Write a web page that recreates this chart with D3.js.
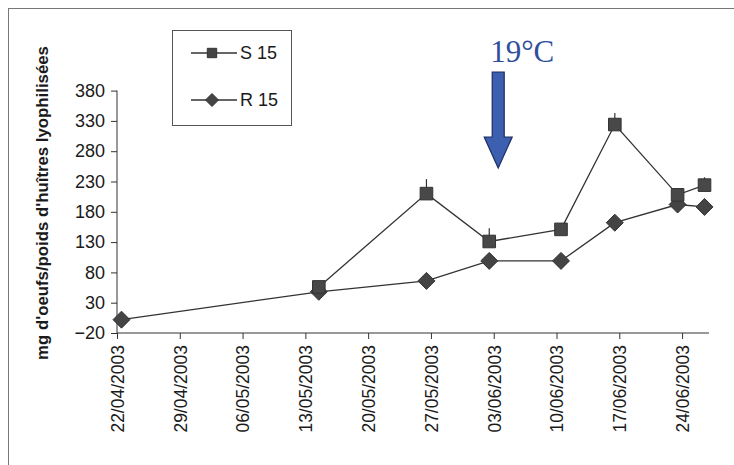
<!DOCTYPE html>
<html>
<head>
<meta charset="utf-8">
<script src="https://cdn.jsdelivr.net/npm/d3@7"></script>
<style>
  html, body { margin: 0; padding: 0; background: #fff; }
  svg { display: block; }
</style>
</head>
<body>
<svg id="chart" width="734" height="465"></svg>
<script>
// Egg mass per freeze-dried oyster weight, spring 2003
const sDates  = ["14/05/2003", "26/05/2003", "02/06/2003", "10/06/2003", "16/06/2003", "23/06/2003", "26/06/2003"];
const sValues = [56, 210, 131, 151, 324, 208, 224];
const sErrors = [0, 24, 22, 0, 19, 0, 13];

const rDates  = ["22/04/2003", "14/05/2003", "26/05/2003", "02/06/2003", "10/06/2003", "16/06/2003", "23/06/2003", "26/06/2003"];
const rValues = [2, 48, 66, 99, 99, 162, 192, 188];

const xTickLabels = ["22/04/2003", "29/04/2003", "06/05/2003", "13/05/2003", "20/05/2003",
                     "27/05/2003", "03/06/2003", "10/06/2003", "17/06/2003", "24/06/2003"];
const yTicks = [-20, 30, 80, 130, 180, 230, 280, 330, 380];

const seriesNames = ["S 15", "R 15"];
const yTitle = "mg d'oeufs/poids d'huîtres lyophilisées";
const markerLabel = "19°C";
const markerDate = "03/06/2003";

const parse = d3.timeParse("%d/%m/%Y");
const fmt = d3.timeFormat("%d/%m/%Y");
const mid = d => d3.timeHour.offset(parse(d), 12);   // points sit in the middle of their day

const svg = d3.select("#chart");
const sans = "'Liberation Sans', Arial, sans-serif";
const ink = "#333";

// outer frame
svg.append("rect")
  .attr("x", 8.5).attr("y", 8.5).attr("width", 760).attr("height", 480)
  .attr("fill", "none").attr("stroke", "#777").attr("stroke-width", 1);

const x = d3.scaleTime()
  .domain([parse("22/04/2003"), parse("27/06/2003")])
  .range([117, 709]);
const y = d3.scaleLinear().domain([-20, 380]).range([333, 90.6]);

// y axis
const yAxis = svg.append("g")
  .attr("transform", "translate(117,0)")
  .call(d3.axisLeft(y).tickValues(yTicks).tickSize(6).tickPadding(6).tickFormat(d3.format("d")));
yAxis.select(".domain").attr("stroke", ink).attr("d", `M-0,${y(380)}V${y(-20)}`);
yAxis.selectAll(".tick line").attr("stroke", ink);
yAxis.selectAll("text")
  .attr("font-family", sans).attr("font-size", 18).attr("fill", "#1a1a1a");

// x axis
const xAxis = svg.append("g")
  .attr("transform", "translate(0,333)")
  .call(d3.axisBottom(x)
    .tickValues(xTickLabels.map(parse))
    .tickSize(6)
    .tickFormat(fmt));
xAxis.select(".domain").attr("stroke", ink).attr("d", `M${x.range()[0]},0H${x.range()[1]}`);
xAxis.selectAll(".tick line").attr("stroke", ink);
xAxis.selectAll("text")
  .attr("font-family", sans).attr("font-size", 17.5).attr("fill", "#1a1a1a")
  .attr("text-anchor", "end")
  .attr("transform", "rotate(-90)")
  .attr("x", -12).attr("y", 0).attr("dy", "0.36em");

// y axis title
svg.append("text")
  .attr("transform", "translate(48,203) rotate(-90)")
  .attr("text-anchor", "middle")
  .attr("font-family", sans).attr("font-weight", "bold").attr("font-size", 16.8)
  .attr("fill", "#1a1a1a")
  .text(yTitle);

const sData = sDates.map((d, i) => ({ date: mid(d), v: sValues[i], e: sErrors[i] }));
const rData = rDates.map((d, i) => ({ date: mid(d), v: rValues[i] }));

const line = d3.line().x(d => x(d.date)).y(d => y(d.v));

svg.append("path").datum(rData).attr("d", line)
  .attr("fill", "none").attr("stroke", ink).attr("stroke-width", 1.3);
svg.append("path").datum(sData).attr("d", line)
  .attr("fill", "none").attr("stroke", ink).attr("stroke-width", 1.3);

// upper error bars on S 15
svg.append("g").selectAll("line")
  .data(sData.filter(d => d.e > 0)).join("line")
  .attr("x1", d => x(d.date)).attr("x2", d => x(d.date))
  .attr("y1", d => y(d.v)).attr("y2", d => y(d.v + d.e))
  .attr("stroke", ink).attr("stroke-width", 1.2);

const diamond = r => `M0,${-r}L${r},0L0,${r}L${-r},0Z`;
const square = h => `M${-h},${-h}H${h}V${h}H${-h}Z`;

svg.append("g").selectAll("path")
  .data(rData).join("path")
  .attr("transform", d => `translate(${x(d.date)},${y(d.v)})`)
  .attr("d", diamond(8.5))
  .attr("fill", "#444").attr("stroke", "#333").attr("stroke-width", 1);

svg.append("g").selectAll("path")
  .data(sData).join("path")
  .attr("transform", d => `translate(${x(d.date)},${y(d.v)})`)
  .attr("d", square(6.3))
  .attr("fill", "#484848").attr("stroke", "#333").attr("stroke-width", 1);

// legend
const lg = svg.append("g");
lg.append("rect").attr("x", 172.5).attr("y", 30.5).attr("width", 119).attr("height", 95)
  .attr("fill", "#fff").attr("stroke", "#555").attr("stroke-width", 1);
const legendRows = [
  { name: seriesNames[0], y: 53, mark: square(4.7) },
  { name: seriesNames[1], y: 100, mark: diamond(6.5) }
];
legendRows.forEach(r => {
  lg.append("line").attr("x1", 191).attr("x2", 237).attr("y1", r.y).attr("y2", r.y)
    .attr("stroke", ink).attr("stroke-width", 1.3);
  lg.append("path").attr("transform", `translate(212,${r.y})`).attr("d", r.mark)
    .attr("fill", "#444").attr("stroke", "#333");
  lg.append("text").attr("x", 240).attr("y", r.y).attr("dy", "0.36em")
    .attr("font-family", sans).attr("font-size", 18).attr("fill", "#1a1a1a")
    .text(r.name);
});

// temperature marker
const ax = x(mid(markerDate));
svg.append("text")
  .attr("x", ax + 24).attr("y", 62)
  .attr("text-anchor", "middle")
  .attr("font-family", "'Liberation Serif', 'Times New Roman', serif")
  .attr("font-size", 31).attr("fill", "#2e4f9c")
  .text(markerLabel);
const arrowPts = [
  [-6, 72], [6, 72], [6, 137], [14, 137], [0, 168], [-14, 137], [-6, 137]
];
svg.append("path")
  .attr("transform", `translate(${ax},0)`)
  .attr("d", d3.line()(arrowPts) + "Z")
  .attr("fill", "#3c5fb0").attr("stroke", "#1d2d63").attr("stroke-width", 1.2);
</script>
</body>
</html>
